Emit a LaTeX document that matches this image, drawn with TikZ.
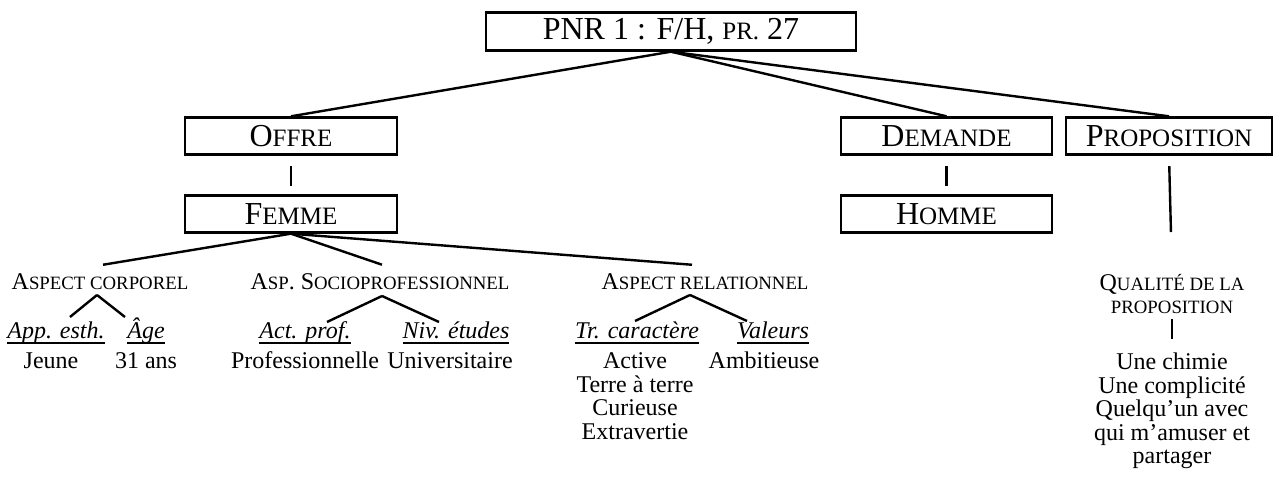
\documentclass[tikz,border=0pt]{standalone}
\usepackage{fontspec}
\setmainfont{Liberation Serif}
\usetikzlibrary{calc}
% hand-made small capitals for the 12pt and 16pt texts
\newcommand\scS[1]{{\fontsize{9.4pt}{11.75pt}\selectfont #1}}
\newcommand\scL[1]{{\fontsize{12.5pt}{18pt}\selectfont #1}}
% underlined italics
\newsavebox\ulbox
\newcommand\ital[1]{\sbox\ulbox{\textit{#1}}\leavevmode\rlap{\vrule width\wd\ulbox height -1.5pt depth 2.4pt}\usebox\ulbox}
\begin{document}
\begin{tikzpicture}[x=0.5pt,y=-0.5pt,
  box/.style={draw,line width=1.2pt,minimum height=18.5pt,inner sep=0pt,
              font=\fontsize{16pt}{19pt}\selectfont},
  lab/.style={inner sep=0pt,font=\fontsize{12pt}{11.75pt}\selectfont,align=center},
  edge/.style={line width=1.2pt}]
\useasboundingbox (0,0) rectangle (1277,485);

% boxes
\node[box,minimum width=185pt,minimum height=19pt] (top) at (671,31.5) {PNR 1 : F/H, \scL{PR.} 27};
\node[box,minimum width=106pt] (offre) at (291,136) {O\scL{FFRE}};
\node[box,minimum width=106pt] (femme) at (291,214) {F\scL{EMME}};
\node[box,minimum width=105.5pt] (dem) at (946.5,136) {D\scL{EMANDE}};
\node[box,minimum width=105.5pt] (hom) at (946.5,214) {H\scL{OMME}};
\node[box,minimum width=103pt] (prop) at (1169,136) {P\scL{ROPOSITION}};

% aspects
\node[lab,anchor=base] (corp) at (100,290) {A\scS{SPECT CORPOREL}};
\node[lab,anchor=base] (socio) at (380,290) {A\scS{SP}. S\scS{OCIOPROFESSIONNEL}};
\node[lab,anchor=base] (rel) at (705,290) {A\scS{SPECT RELATIONNEL}};
\node[lab,anchor=north] (qual) at (1172,273.6) {Q\scS{UALITÉ DE LA}\\\scS{PROPOSITION}};

% sub-aspects
\node[lab,anchor=base] (app) at (56,339) {\ital{App. esth.}};
\node[lab,anchor=base] (age) at (146,339) {\ital{Âge}};
\node[lab,anchor=base] (act) at (305,339) {\ital{Act. prof.}};
\node[lab,anchor=base] (niv) at (456,339) {\ital{Niv. études}};
\node[lab,anchor=base] (trc) at (637,339) {\ital{Tr. caractère}};
\node[lab,anchor=base] (val) at (773,339) {\ital{Valeurs}};

% values
\node[lab,anchor=base] (jeune) at (51,369) {Jeune};
\node[lab,anchor=base] (ans) at (146,369) {31 ans};
\node[lab,anchor=base] (pro) at (305,369) {Professionnelle};
\node[lab,anchor=base] (univ) at (450,369) {Universitaire};
\node[lab,anchor=north] (actv) at (635,352.6) {Active\\Terre à terre\\Curieuse\\Extravertie};
\node[lab,anchor=base] (amb) at (764,369) {Ambitieuse};
\node[lab,anchor=north] (une) at (1172,352.6) {Une chimie\\Une complicité\\Quelqu’un avec\\qui m’amuser et\\partager};

% branch points
\coordinate (corpT) at ($(corp.north)+(3,-9)$);
\coordinate (socioT) at ($(socio.north)+(2,-9)$);
\coordinate (relT) at ($(rel.north)+(-13,-9)$);
\coordinate (corpB) at ($(corp.base)+(-3,5)$);
\coordinate (socioB) at ($(socio.base)+(2,6)$);
\coordinate (relB) at ($(rel.base)+(-15,5)$);

% connectors
\draw[edge] (top.south) -- (offre.north);
\draw[edge] (top.south) -- (dem.north);
\draw[edge] (top.south) -- (prop.north);
\draw[edge,shorten <=5.25pt,shorten >=4.25pt] (offre.south) -- (femme.north);
\draw[edge,shorten <=5.25pt,shorten >=4.25pt] (dem.south) -- (hom.north);
\draw[edge,shorten <=5.25pt,shorten >=20.8pt] (prop.south) -- (qual.north);
\draw[edge] (femme.south) -- (corpT);
\draw[edge] (femme.south) -- (socioT);
\draw[edge] (femme.south) -- (relT);
\draw[edge] (corpB) -- ++(-27,22) (corpB) -- ++(28,22);
\draw[edge] (socioB) -- ++(-55,26) (socioB) -- ++(57,26);
\draw[edge] (relB) -- ++(-55,26) (relB) -- ++(57,26);
\draw[edge,shorten <=2.5pt,shorten >=7pt] (qual.south) -- (une.north);
\end{tikzpicture}
\end{document}
